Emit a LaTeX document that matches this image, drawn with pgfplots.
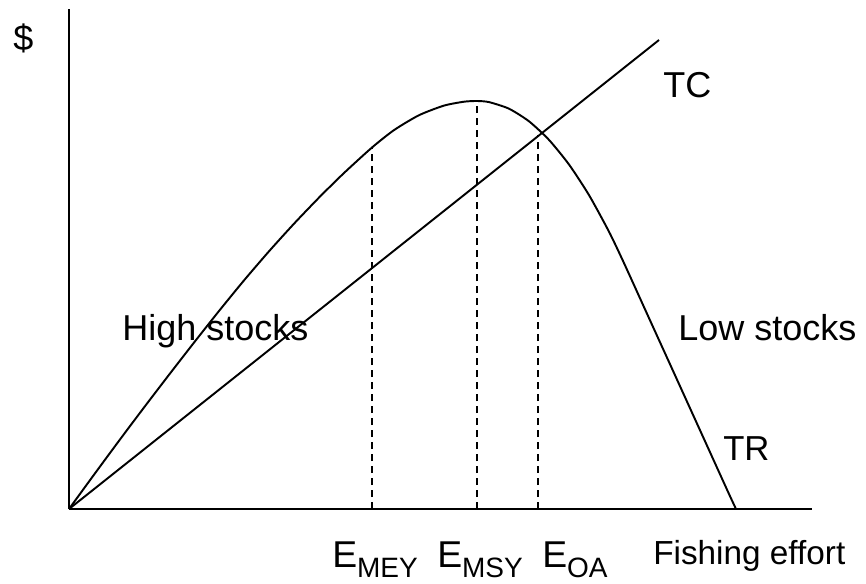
\documentclass[border=0pt]{standalone}
\usepackage{pgfplots}
\pgfplotsset{compat=1.18}
\usepackage{fontspec}
\setmainfont{Liberation Sans}
\begin{document}
\begin{tikzpicture}
\begin{axis}[
  x=0.75pt, y=0.75pt,
  xmin=0, xmax=743, ymin=0, ymax=500,
  axis lines=left,
  axis line style={-, line width=1.8pt},
  ticks=none,
  clip=false,
]
% invisible frame giving the picture its size
\path (axis cs:-69,-74) rectangle (axis cs:797,509);
% TR curve
\addplot[black, line width=1.45pt, smooth, tension=0.4] coordinates {
(0,0) (25,34.3) (50,68.2) (75,101.5) (100,134.2) (125,166.4) (150,198)
(175,228.6) (200,257.7) (225,285.3) (250,311.4) (275,336) (303,361.5)
(325,378.9) (350,393.8) (375,403.4) (395,407.3) (408,408)
(420,406.9) (440,400.3) (460,387.7) (480,369.1) (500,344.5) (520,313.9)
(540,277.3) (555,245.9) (580,190.9) (600,147) (620,103) (640,59) (660,15) (667,0)
};
% TC line
\addplot[black, line width=1.45pt] coordinates {(0,0) (590,469)};
% dashed guides
\addplot[black, line width=1.45pt, dash pattern=on 5.25pt off 3.75pt] coordinates {(303,0) (303,361.5)};
\addplot[black, line width=1.45pt, dash pattern=on 5.25pt off 3.75pt] coordinates {(408,0) (408,408)};
\addplot[black, line width=1.45pt, dash pattern=on 5.25pt off 3.75pt] coordinates {(469,0) (469,374)};
% labels
\node[anchor=base west, inner sep=0pt, font=\fontsize{27}{30}\selectfont] at (axis cs:-56,459) {\$};
\node[anchor=base west, inner sep=0pt, font=\fontsize{27}{30}\selectfont] at (axis cs:594,412) {TC};
\node[anchor=base west, inner sep=0pt, font=\fontsize{27}{30}\selectfont] at (axis cs:53,169) {High stocks};
\node[anchor=base west, inner sep=0pt, font=\fontsize{27}{30}\selectfont] at (axis cs:609,169) {Low stocks};
\node[anchor=base west, inner sep=0pt, font=\fontsize{26}{30}\selectfont] at (axis cs:654,49) {TR};
\node[anchor=base west, inner sep=0pt, font=\fontsize{28}{32}\selectfont] at (axis cs:263,-58) {E\raisebox{-7.5pt}{\fontsize{21}{24}\selectfont MEY}};
\node[anchor=base west, inner sep=0pt, font=\fontsize{28}{32}\selectfont] at (axis cs:368,-58) {E\raisebox{-7.5pt}{\fontsize{21}{24}\selectfont MSY}};
\node[anchor=base west, inner sep=0pt, font=\fontsize{28}{32}\selectfont] at (axis cs:473,-58) {E\raisebox{-7.5pt}{\fontsize{21}{24}\selectfont OA}};
\node[anchor=base west, inner sep=0pt, font=\fontsize{25}{28}\selectfont] at (axis cs:584,-55) {Fishing effort};
\end{axis}
\end{tikzpicture}
\end{document}
